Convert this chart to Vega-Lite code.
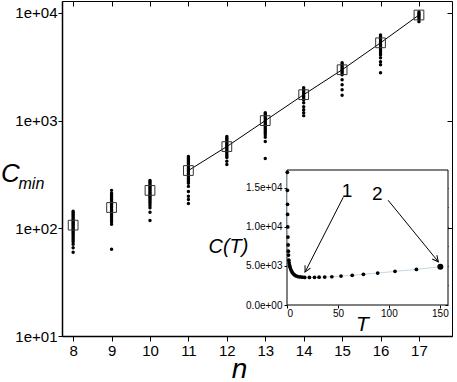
{
  "$schema": "https://vega.github.io/schema/vega-lite/v6.json",
  "width": 390,
  "height": 335,
  "autosize": {"type": "none"},
  "padding": {"left": 62, "top": 1, "right": 5, "bottom": 46},
  "background": "white",
  "config": {
    "font": "Liberation Sans",
    "view": {"stroke": "black", "strokeWidth": 1},
    "axis": {"grid": false, "domainColor": "black", "tickColor": "black", "labelColor": "black", "titleColor": "black", "labelFont": "Liberation Sans", "titleFont": "Liberation Sans", "titleFontWeight": "normal"}
  },
  "datasets": {
    "dots": [
      {"n": 8, "C": 144}, {"n": 8, "C": 140}, {"n": 8, "C": 136}, {"n": 8, "C": 132}, {"n": 8, "C": 128}, {"n": 8, "C": 124}, {"n": 8, "C": 120}, {"n": 8, "C": 117}, {"n": 8, "C": 114}, {"n": 8, "C": 111}, {"n": 8, "C": 108}, {"n": 8, "C": 105}, {"n": 8, "C": 102}, {"n": 8, "C": 99}, {"n": 8, "C": 96}, {"n": 8, "C": 93}, {"n": 8, "C": 90}, {"n": 8, "C": 87}, {"n": 8, "C": 84}, {"n": 8, "C": 81}, {"n": 8, "C": 78}, {"n": 8, "C": 75}, {"n": 8, "C": 71}, {"n": 8, "C": 66}, {"n": 8, "C": 60},
      {"n": 9, "C": 225}, {"n": 9, "C": 212}, {"n": 9, "C": 204}, {"n": 9, "C": 197}, {"n": 9, "C": 190}, {"n": 9, "C": 184}, {"n": 9, "C": 178}, {"n": 9, "C": 172}, {"n": 9, "C": 166}, {"n": 9, "C": 160}, {"n": 9, "C": 155}, {"n": 9, "C": 150}, {"n": 9, "C": 145}, {"n": 9, "C": 140}, {"n": 9, "C": 135}, {"n": 9, "C": 130}, {"n": 9, "C": 125}, {"n": 9, "C": 120}, {"n": 9, "C": 115}, {"n": 9, "C": 109}, {"n": 9, "C": 64},
      {"n": 10, "C": 278}, {"n": 10, "C": 270}, {"n": 10, "C": 262}, {"n": 10, "C": 254}, {"n": 10, "C": 247}, {"n": 10, "C": 240}, {"n": 10, "C": 233}, {"n": 10, "C": 226}, {"n": 10, "C": 219}, {"n": 10, "C": 212}, {"n": 10, "C": 206}, {"n": 10, "C": 200}, {"n": 10, "C": 194}, {"n": 10, "C": 188}, {"n": 10, "C": 182}, {"n": 10, "C": 176}, {"n": 10, "C": 170}, {"n": 10, "C": 163}, {"n": 10, "C": 155}, {"n": 10, "C": 141}, {"n": 10, "C": 118},
      {"n": 11, "C": 464}, {"n": 11, "C": 450}, {"n": 11, "C": 436}, {"n": 11, "C": 422}, {"n": 11, "C": 408}, {"n": 11, "C": 395}, {"n": 11, "C": 382}, {"n": 11, "C": 370}, {"n": 11, "C": 358}, {"n": 11, "C": 346}, {"n": 11, "C": 335}, {"n": 11, "C": 324}, {"n": 11, "C": 313}, {"n": 11, "C": 302}, {"n": 11, "C": 292}, {"n": 11, "C": 282}, {"n": 11, "C": 272}, {"n": 11, "C": 262}, {"n": 11, "C": 245}, {"n": 11, "C": 220}, {"n": 11, "C": 198}, {"n": 11, "C": 185}, {"n": 11, "C": 170},
      {"n": 12, "C": 711}, {"n": 12, "C": 690}, {"n": 12, "C": 670}, {"n": 12, "C": 650}, {"n": 12, "C": 630}, {"n": 12, "C": 612}, {"n": 12, "C": 594}, {"n": 12, "C": 576}, {"n": 12, "C": 558}, {"n": 12, "C": 540}, {"n": 12, "C": 522}, {"n": 12, "C": 505}, {"n": 12, "C": 488}, {"n": 12, "C": 470}, {"n": 12, "C": 454}, {"n": 12, "C": 420}, {"n": 12, "C": 392},
      {"n": 13, "C": 1186}, {"n": 13, "C": 1150}, {"n": 13, "C": 1115}, {"n": 13, "C": 1080}, {"n": 13, "C": 1045}, {"n": 13, "C": 1010}, {"n": 13, "C": 978}, {"n": 13, "C": 946}, {"n": 13, "C": 915}, {"n": 13, "C": 885}, {"n": 13, "C": 855}, {"n": 13, "C": 826}, {"n": 13, "C": 798}, {"n": 13, "C": 770}, {"n": 13, "C": 741}, {"n": 13, "C": 700}, {"n": 13, "C": 640}, {"n": 13, "C": 445},
      {"n": 14, "C": 2021}, {"n": 14, "C": 1960}, {"n": 14, "C": 1900}, {"n": 14, "C": 1840}, {"n": 14, "C": 1785}, {"n": 14, "C": 1730}, {"n": 14, "C": 1675}, {"n": 14, "C": 1620}, {"n": 14, "C": 1563}, {"n": 14, "C": 1466}, {"n": 14, "C": 1343}, {"n": 14, "C": 1262}, {"n": 14, "C": 1186}, {"n": 14, "C": 1112},
      {"n": 15, "C": 3440}, {"n": 15, "C": 3340}, {"n": 15, "C": 3240}, {"n": 15, "C": 3140}, {"n": 15, "C": 3040}, {"n": 15, "C": 2950}, {"n": 15, "C": 2860}, {"n": 15, "C": 2770}, {"n": 15, "C": 2665}, {"n": 15, "C": 2400}, {"n": 15, "C": 2155}, {"n": 15, "C": 1935}, {"n": 15, "C": 1720},
      {"n": 16, "C": 6250}, {"n": 16, "C": 6050}, {"n": 16, "C": 5850}, {"n": 16, "C": 5650}, {"n": 16, "C": 5460}, {"n": 16, "C": 5280}, {"n": 16, "C": 5100}, {"n": 16, "C": 4930}, {"n": 16, "C": 4760}, {"n": 16, "C": 4590}, {"n": 16, "C": 4420}, {"n": 16, "C": 4250}, {"n": 16, "C": 4085}, {"n": 16, "C": 3830}, {"n": 16, "C": 3520}, {"n": 16, "C": 3300}, {"n": 16, "C": 2780},
      {"n": 17, "C": 10200}, {"n": 17, "C": 9900}, {"n": 17, "C": 9600}, {"n": 17, "C": 9300}, {"n": 17, "C": 9000}, {"n": 17, "C": 8700}, {"n": 17, "C": 8300}
    ],
    "means": [
      {"n": 8, "C": 107}, {"n": 9, "C": 156}, {"n": 10, "C": 225}, {"n": 11, "C": 344}, {"n": 12, "C": 574},
      {"n": 13, "C": 1000}, {"n": 14, "C": 1741}, {"n": 15, "C": 2966}, {"n": 16, "C": 5275}, {"n": 17, "C": 9560}
    ],
    "curve": [
      {"T": 0.3, "C": 17000}, {"T": 0.4, "C": 14700}, {"T": 0.5, "C": 12900}, {"T": 0.6, "C": 11600}, {"T": 0.75, "C": 10000},
      {"T": 0.9, "C": 8700}, {"T": 1.1, "C": 7700}, {"T": 1.3, "C": 6900}, {"T": 1.5, "C": 6400}, {"T": 1.8, "C": 5750},
      {"T": 2.1, "C": 5400}, {"T": 2.5, "C": 5100}, {"T": 3.0, "C": 4850}, {"T": 3.6, "C": 4600}, {"T": 4.3, "C": 4380},
      {"T": 5.2, "C": 4180}, {"T": 6.2, "C": 4000}, {"T": 7.4, "C": 3850}, {"T": 8.9, "C": 3730}, {"T": 10.7, "C": 3640},
      {"T": 12.8, "C": 3590}, {"T": 15, "C": 3560}, {"T": 17.4, "C": 3540}, {"T": 22, "C": 3540}, {"T": 27, "C": 3550},
      {"T": 31.5, "C": 3560}, {"T": 37, "C": 3580}, {"T": 44, "C": 3620}, {"T": 53, "C": 3710}, {"T": 64, "C": 3800},
      {"T": 75, "C": 3930}, {"T": 89, "C": 4090}, {"T": 106, "C": 4310}, {"T": 127, "C": 4560}, {"T": 150.5, "C": 4900}
    ],
    "marked": [{"T": 150.5, "C": 4900}],
    "labels": [{"label": "1", "T": 59, "C": 13810}, {"label": "2", "T": 88.7, "C": 13430}],
    "arrows": [
      {"a": 1, "T": 55.2, "C": 13800, "T2": 17.7, "C2": 4220},
      {"a": 2, "T": 99.2, "C": 13430, "T2": 148.5, "C2": 5540}
    ]
  },
  "layer": [
    {
      "resolve": {"axis": {"x": "independent", "y": "independent"}},
      "layer": [
        {
          "data": {"name": "dots"},
          "mark": {"type": "point", "filled": true, "color": "black", "size": 12, "opacity": 1},
          "encoding": {
            "x": {"field": "n", "type": "quantitative", "scale": {"domain": [7.71, 17.86], "nice": false, "zero": false},
              "axis": {"orient": "bottom", "values": [8, 9, 10, 11, 12, 13, 14, 15, 16, 17], "format": "d", "labelFontSize": 15, "tickSize": 5, "labelPadding": 2, "domainWidth": 1.5,
                "title": "n", "titleFontSize": 28, "titleFontStyle": "italic", "titleX": 177, "titleY": 41, "titleAlign": "center", "titleBaseline": "alphabetic"}},
            "y": {"field": "C", "type": "quantitative", "scale": {"type": "log", "domain": [10, 12900], "nice": false},
              "axis": {"orient": "left", "values": [10, 100, 1000, 10000], "labelExpr": "'1e+0' + round(log(datum.value)/LN10)", "labelFontSize": 15, "tickSize": 4, "labelPadding": 1, "domainWidth": 1.5,
                "title": "C", "titleFontSize": 26, "titleFontStyle": "italic", "titleAngle": 0, "titleX": -52, "titleY": 180, "titleAlign": "center", "titleBaseline": "alphabetic"}}
          }
        },
        {
          "data": {"name": "means"},
          "transform": [{"filter": "datum.n >= 11"}],
          "mark": {"type": "line", "color": "black", "strokeWidth": 1},
          "encoding": {
            "x": {"field": "n", "type": "quantitative", "scale": {"domain": [7.71, 17.86], "nice": false, "zero": false},
              "axis": {"orient": "top", "offset": 0, "values": [8, 9, 10, 11, 12, 13, 14, 15, 16, 17], "labels": false, "domain": false, "tickSize": -5, "title": null}},
            "y": {"field": "C", "type": "quantitative", "scale": {"type": "log", "domain": [10, 12900], "nice": false},
              "axis": {"orient": "right", "offset": 0, "values": [10, 100, 1000, 10000], "labels": false, "domain": false, "tickSize": -5, "title": null}}
          }
        },
        {
          "data": {"name": "means"},
          "mark": {"type": "point", "shape": "square", "filled": false, "size": 95, "stroke": "#333333", "strokeWidth": 1, "opacity": 1},
          "encoding": {
            "x": {"field": "n", "type": "quantitative", "scale": {"domain": [7.71, 17.86], "nice": false, "zero": false}, "axis": null},
            "y": {"field": "C", "type": "quantitative", "scale": {"type": "log", "domain": [10, 12900], "nice": false},
              "axis": {"orient": "left", "offset": 0, "labels": false, "ticks": false, "domain": false, "title": "min", "titleFontSize": 16, "titleFontStyle": "italic", "titleAngle": 0, "titleX": -44, "titleY": 187, "titleAlign": "left", "titleBaseline": "alphabetic"}}
          }
        }
      ]
    },
    {
      "resolve": {"axis": {"x": "independent", "y": "independent"}},
      "layer": [
        {
          "data": {"values": [{}]},
          "mark": {"type": "rect", "fill": "white", "stroke": "black", "strokeWidth": 1},
          "encoding": {
            "x": {"datum": 0, "type": "quantitative", "scale": {"domain": [0, 158], "range": [225, 386], "nice": false, "zero": false},
              "axis": {"orient": "bottom", "offset": -31, "values": [0, 50, 100, 150], "labelFontSize": 10, "tickSize": 3, "labelPadding": 0, "domain": false,
                "title": "T", "titleFontSize": 21, "titleFontStyle": "italic", "titleX": 300, "titleY": 25, "titleAlign": "center", "titleBaseline": "alphabetic"}},
            "x2": {"datum": 158},
            "y": {"datum": 0, "type": "quantitative", "scale": {"domain": [0, 17300], "range": [304, 169], "nice": false, "zero": false},
              "axis": {"orient": "left", "offset": -225, "values": [0, 5000, 10000, 15000], "labelExpr": "datum.value == 0 ? '0.0e+00' : datum.value == 5000 ? '5.0e+03' : datum.value == 10000 ? '1.0e+04' : '1.5e+04'", "labelFontSize": 10, "tickSize": 3, "labelPadding": 2, "domain": false,
                "title": "C(T)", "titleFontSize": 20, "titleFontStyle": "italic", "titleAngle": 0, "titleX": -39, "titleY": 251, "titleAlign": "right", "titleBaseline": "alphabetic"}},
            "y2": {"datum": 17300}
          }
        },
        {
          "data": {"name": "curve"},
          "mark": {"type": "line", "color": "#c4d8e4", "strokeWidth": 1},
          "encoding": {
            "x": {"field": "T", "type": "quantitative", "scale": {"domain": [0, 158], "range": [225, 386], "nice": false, "zero": false}, "axis": null},
            "y": {"field": "C", "type": "quantitative", "scale": {"domain": [0, 17300], "range": [304, 169], "nice": false, "zero": false}, "axis": null}
          }
        },
        {
          "data": {"name": "curve"},
          "mark": {"type": "point", "filled": true, "color": "black", "size": 14, "opacity": 1},
          "encoding": {
            "x": {"field": "T", "type": "quantitative", "scale": {"domain": [0, 158], "range": [225, 386], "nice": false, "zero": false},
              "axis": {"orient": "top", "offset": -169, "values": [0, 25, 50, 75, 100, 125, 150], "labels": false, "domain": false, "tickSize": -3, "title": null}},
            "y": {"field": "C", "type": "quantitative", "scale": {"domain": [0, 17300], "range": [304, 169], "nice": false, "zero": false},
              "axis": {"orient": "right", "offset": -4, "values": [0, 2500, 5000, 7500, 10000, 12500, 15000], "labels": false, "domain": false, "tickSize": -3, "title": null}}
          }
        },
        {
          "data": {"name": "marked"},
          "mark": {"type": "point", "filled": true, "color": "black", "size": 36, "opacity": 1},
          "encoding": {
            "x": {"field": "T", "type": "quantitative", "scale": {"domain": [0, 158], "range": [225, 386], "nice": false, "zero": false}, "axis": null},
            "y": {"field": "C", "type": "quantitative", "scale": {"domain": [0, 17300], "range": [304, 169], "nice": false, "zero": false}, "axis": null}
          }
        },
        {
          "data": {"name": "arrows"},
          "mark": {"type": "rule", "color": "black", "strokeWidth": 1},
          "encoding": {
            "x": {"field": "T", "type": "quantitative", "scale": {"domain": [0, 158], "range": [225, 386], "nice": false, "zero": false}, "axis": null},
            "y": {"field": "C", "type": "quantitative", "scale": {"domain": [0, 17300], "range": [304, 169], "nice": false, "zero": false}, "axis": null},
            "x2": {"field": "T2"},
            "y2": {"field": "C2"}
          }
        },
        {
          "data": {"name": "arrows"},
          "transform": [{"filter": "datum.a == 1"}],
          "mark": {"type": "point", "shape": "M -1 -0.5 L 0 0 L -1 0.5", "filled": false, "stroke": "black", "strokeWidth": 1, "size": 144, "angle": 116.6, "opacity": 1},
          "encoding": {
            "x": {"field": "T2", "type": "quantitative", "scale": {"domain": [0, 158], "range": [225, 386], "nice": false, "zero": false}, "axis": null},
            "y": {"field": "C2", "type": "quantitative", "scale": {"domain": [0, 17300], "range": [304, 169], "nice": false, "zero": false}, "axis": null}
          }
        },
        {
          "data": {"name": "arrows"},
          "transform": [{"filter": "datum.a == 2"}],
          "mark": {"type": "point", "shape": "M -1 -0.5 L 0 0 L -1 0.5", "filled": false, "stroke": "black", "strokeWidth": 1, "size": 144, "angle": 51, "opacity": 1},
          "encoding": {
            "x": {"field": "T2", "type": "quantitative", "scale": {"domain": [0, 158], "range": [225, 386], "nice": false, "zero": false}, "axis": null},
            "y": {"field": "C2", "type": "quantitative", "scale": {"domain": [0, 17300], "range": [304, 169], "nice": false, "zero": false}, "axis": null}
          }
        },
        {
          "data": {"name": "labels"},
          "mark": {"type": "text", "fontSize": 19, "color": "black", "align": "center", "baseline": "alphabetic", "font": "Liberation Sans"},
          "encoding": {
            "x": {"field": "T", "type": "quantitative", "scale": {"domain": [0, 158], "range": [225, 386], "nice": false, "zero": false}, "axis": null},
            "y": {"field": "C", "type": "quantitative", "scale": {"domain": [0, 17300], "range": [304, 169], "nice": false, "zero": false}, "axis": null},
            "text": {"field": "label"}
          }
        }
      ]
    }
  ],
  "resolve": {"scale": {"x": "independent", "y": "independent"}, "axis": {"x": "independent", "y": "independent"}}
}
